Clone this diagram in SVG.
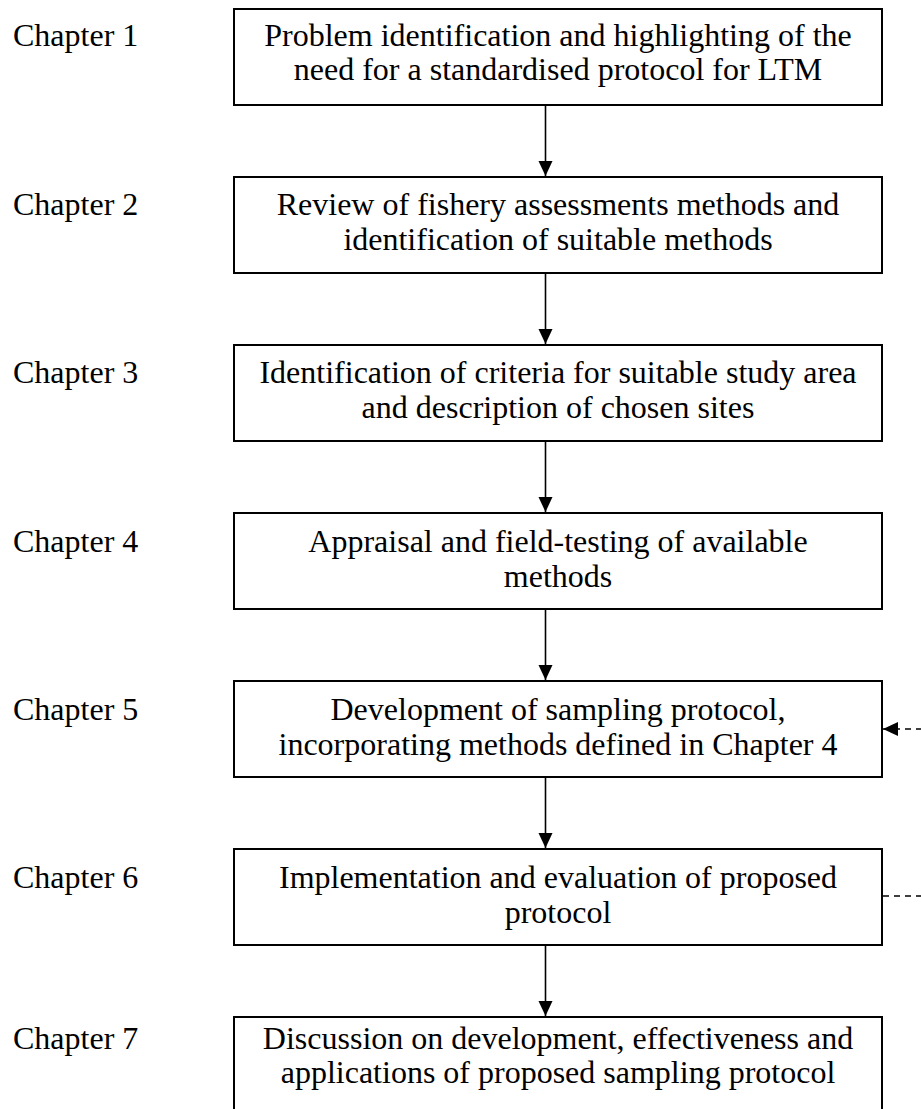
<svg xmlns="http://www.w3.org/2000/svg" width="921" height="1109" viewBox="0 0 921 1109">
<style>
text { font-family: "Liberation Serif", "Times New Roman", serif; font-size: 32px; fill: #000; }
.c { text-anchor: middle; }
.box { fill: #fff; stroke: #000; stroke-width: 2; }
.arr { stroke: #000; stroke-width: 1.6; fill: none; }
.dash { stroke: #000; stroke-width: 1.5; fill: none; stroke-dasharray: 6 5; }
</style>
<defs>
<marker id="ah" markerUnits="userSpaceOnUse" markerWidth="16" markerHeight="16" refX="15" refY="7" orient="auto">
<path d="M0,0 L15,7 L0,14 z" fill="#000"/>
</marker>
</defs>
<rect width="921" height="1109" fill="#fff"/>
<g id="connectors">
<line class="arr" x1="545.5" y1="104" x2="545.5" y2="176" marker-end="url(#ah)"/>
<line class="arr" x1="545.5" y1="272" x2="545.5" y2="344" marker-end="url(#ah)"/>
<line class="arr" x1="545.5" y1="440" x2="545.5" y2="512" marker-end="url(#ah)"/>
<line class="arr" x1="545.5" y1="608" x2="545.5" y2="680" marker-end="url(#ah)"/>
<line class="arr" x1="545.5" y1="776" x2="545.5" y2="848" marker-end="url(#ah)"/>
<line class="arr" x1="545.5" y1="944" x2="545.5" y2="1016" marker-end="url(#ah)"/>
<path class="dash" d="M883,896 H940 V729 H883" marker-end="url(#ah)"/>
</g>
<g id="ch1"><text x="13" y="46">Chapter 1</text>
<rect class="box" x="234" y="9" width="648" height="96"/>
<text class="c" x="558" y="46">Problem identification and highlighting of the</text>
<text class="c" x="558" y="80">need for a standardised protocol for LTM</text></g>
<g id="ch2"><text x="13" y="215">Chapter 2</text>
<rect class="box" x="234" y="177" width="648" height="96"/>
<text class="c" x="558" y="215">Review of fishery assessments methods and</text>
<text class="c" x="558" y="250">identification of suitable methods</text></g>
<g id="ch3"><text x="13" y="383">Chapter 3</text>
<rect class="box" x="234" y="345" width="648" height="96"/>
<text class="c" x="558" y="383">Identification of criteria for suitable study area</text>
<text class="c" x="558" y="418">and description of chosen sites</text></g>
<g id="ch4"><text x="13" y="552">Chapter 4</text>
<rect class="box" x="234" y="513" width="648" height="96"/>
<text class="c" x="558" y="552">Appraisal and field-testing of available</text>
<text class="c" x="558" y="587">methods</text></g>
<g id="ch5"><text x="13" y="720">Chapter 5</text>
<rect class="box" x="234" y="681" width="648" height="96"/>
<text class="c" x="558" y="720">Development of sampling protocol,</text>
<text class="c" x="558" y="755">incorporating methods defined in Chapter 4</text></g>
<g id="ch6"><text x="13" y="888">Chapter 6</text>
<rect class="box" x="234" y="849" width="648" height="96"/>
<text class="c" x="558" y="888">Implementation and evaluation of proposed</text>
<text class="c" x="558" y="923">protocol</text></g>
<g id="ch7"><text x="13" y="1049">Chapter 7</text>
<rect class="box" x="234" y="1017" width="648" height="110"/>
<text class="c" x="558" y="1049">Discussion on development, effectiveness and</text>
<text class="c" x="558" y="1083">applications of proposed sampling protocol</text></g>
</svg>
